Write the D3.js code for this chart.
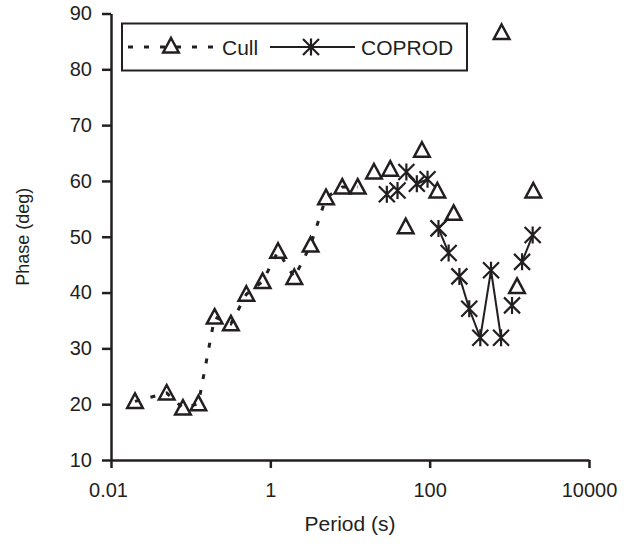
<!DOCTYPE html>
<html><head><meta charset="utf-8">
<script src="https://cdn.jsdelivr.net/npm/d3@7"></script>
<style>
html,body{margin:0;padding:0;background:#fff;}
svg text{font-family:"Liberation Sans",Arial,sans-serif;fill:#231f20;}
</style></head>
<body>
<svg id="chart" width="632" height="547"></svg>
<script>
// ---- data ----
const cullPeriod = [0.02, 0.05, 0.08, 0.125, 0.2, 0.32, 0.5, 0.8, 1.25, 2, 3.2, 5, 8, 12.5, 20, 32, 50, 80, 125, 200, 800, 1250, 2000];
const cullPhase  = [20.5, 22.0, 19.3, 20.1, 35.6, 34.4, 39.7, 42.0, 47.4, 42.7, 48.5, 57.0, 58.9, 58.9, 61.6, 62.1, 51.8, 65.5, 58.2, 54.2, 86.6, 41.1, 58.2];
const cullLinedCount = 14; // first points joined by the dashed line

const coprodPeriod = [29, 39.5, 51, 69, 94, 129, 173, 236, 314, 432, 589, 787, 1081, 1445, 1963];
const coprodPhase  = [57.6, 58.3, 61.6, 59.5, 60.3, 51.5, 47.1, 42.9, 37.1, 31.9, 44.0, 31.9, 37.7, 45.5, 50.3];
const coprodLinks  = [[2,3],[3,4],[5,6],[7,8],[8,9],[9,10],[10,11],[13,14]];
const coprodToCull = [[5,19]];

const xTicks = [0.01, 1, 100, 10000];
const xTickLabels = ["0.01", "1", "100", "10000"];
const yTicks = [10, 20, 30, 40, 50, 60, 70, 80, 90];
const seriesNames = ["Cull", "COPROD"];

// ---- chart ----
const ink = "#231f20";
const svg = d3.select("#chart");
const x = d3.scaleLog().domain([0.01, 10000]).range([111, 589]);
const y = d3.scaleLinear().domain([10, 90]).range([460, 13.5]);

const yAx = svg.append("g").attr("transform", `translate(${x(0.01)},0)`)
  .call(d3.axisLeft(y).tickValues(yTicks).tickSize(9).tickSizeOuter(0).tickPadding(10));
const xAx = svg.append("g").attr("transform", `translate(0,${y(10)})`)
  .call(d3.axisBottom(x).tickValues(xTicks).tickFormat((d,i)=>xTickLabels[i]).tickSize(8).tickSizeOuter(0).tickPadding(15));
[yAx, xAx].forEach(g=>{
  g.selectAll("path,line").attr("stroke", ink).attr("stroke-width", 2.5);
  g.selectAll("text").attr("font-size", 20).attr("fill", ink).style("font-family","Liberation Sans, Arial, sans-serif");
});
xAx.selectAll(".tick text").filter(d=>d===0.01).attr("dx", -3);

svg.append("text").attr("x", (x(0.01)+x(10000))/2).attr("y", 531).attr("text-anchor","middle")
  .attr("font-size", 21).text("Period (s)");
svg.append("text").attr("transform", `translate(29,${(y(10)+y(90))/2}) rotate(-90)`).attr("text-anchor","middle")
  .attr("font-size", 18).text("Phase (deg)");

const triPath = "M0,-8L7.8,6.5L-7.8,6.5Z";
const starPath = "M0,-8.5V8.5M-8,-8L8,8M-8,8L8,-8";

// Cull dashed line
const cullPts = cullPeriod.map((p,i)=>[x(p), y(cullPhase[i])]);
svg.append("path").attr("d", d3.line()(cullPts.slice(0, cullLinedCount)))
  .attr("fill","none").attr("stroke", ink).attr("stroke-width", 3).attr("stroke-dasharray","5,11");

// COPROD solid segments
const copPts = coprodPeriod.map((p,i)=>[x(p), y(coprodPhase[i])]);
const segG = svg.append("g");
coprodLinks.forEach(([a,b])=>{
  segG.append("line").attr("x1",copPts[a][0]).attr("y1",copPts[a][1]).attr("x2",copPts[b][0]).attr("y2",copPts[b][1])
    .attr("stroke", ink).attr("stroke-width", 2);
});
coprodToCull.forEach(([a,b])=>{
  const p0 = copPts[a], p1 = cullPts[b];
  const dx = p1[0]-p0[0], dy = p1[1]-p0[1], L = Math.hypot(dx,dy), k = (L-7)/L;
  segG.append("line").attr("x1",p0[0]).attr("y1",p0[1]).attr("x2",p0[0]+dx*k).attr("y2",p0[1]+dy*k)
    .attr("stroke", ink).attr("stroke-width", 2);
});

// markers
svg.append("g").selectAll("path").data(cullPts).join("path")
  .attr("transform", d=>`translate(${d[0]},${d[1]})`).attr("d", triPath)
  .attr("fill","none").attr("stroke", ink).attr("stroke-width", 2.5).attr("stroke-linejoin","miter");
svg.append("g").selectAll("path").data(copPts).join("path")
  .attr("transform", d=>`translate(${d[0]},${d[1]})`).attr("d", starPath)
  .attr("fill","none").attr("stroke", ink).attr("stroke-width", 2.2);

// legend
const lg = svg.append("g");
lg.append("rect").attr("x",122).attr("y",23.5).attr("width",345).attr("height",47)
  .attr("fill","#fff").attr("stroke", ink).attr("stroke-width", 2);
lg.append("line").attr("x1",128).attr("x2",214).attr("y1",47).attr("y2",47)
  .attr("stroke", ink).attr("stroke-width", 3).attr("stroke-dasharray","5,11");
lg.append("path").attr("transform","translate(171,46)").attr("d", triPath)
  .attr("fill","none").attr("stroke", ink).attr("stroke-width", 2.5);
lg.append("text").attr("x",222).attr("y",54.5).attr("font-size",21).text(seriesNames[0]);
lg.append("line").attr("x1",270).attr("x2",355).attr("y1",47).attr("y2",47)
  .attr("stroke", ink).attr("stroke-width", 2);
lg.append("path").attr("transform","translate(311,47)").attr("d", starPath)
  .attr("fill","none").attr("stroke", ink).attr("stroke-width", 2.2);
lg.append("text").attr("x",361).attr("y",54.5).attr("font-size",21).text(seriesNames[1]);
</script>
</body></html>
